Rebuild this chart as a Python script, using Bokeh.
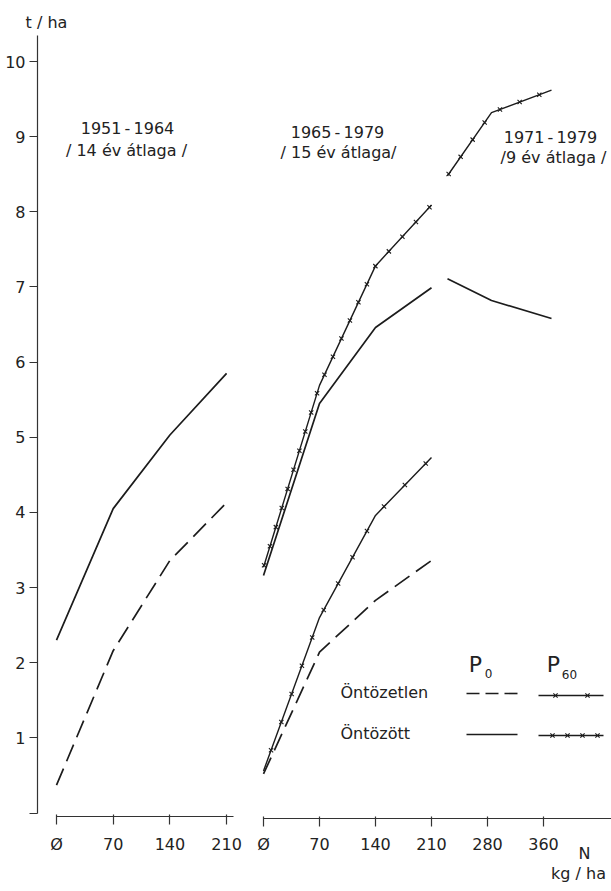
from bokeh.plotting import figure
from bokeh.models import Range1d, FixedTicker, Label, LinearAxis
from bokeh.embed import file_html
from bokeh.resources import INLINE

# ---------------- data ----------------
# N dose, kg/ha ; yield, t/ha
n_1951 = [0, 70, 140, 210]
irrig_p0_1951 = [2.30, 4.05, 5.03, 5.85]      # Öntözött, P0
dry_p0_1951 = [0.37, 2.16, 3.36, 4.13]        # Öntözetlen, P0

n_1965 = [0, 70, 140, 210]
irrig_p0_1965 = [3.16, 5.45, 6.46, 6.99]      # Öntözött, P0
irrig_p60_1965 = [3.27, 5.69, 7.28, 8.09]     # Öntözött, P60
dry_p0_1965 = [0.52, 2.14, 2.83, 3.36]        # Öntözetlen, P0
dry_p60_1965 = [0.56, 2.60, 3.96, 4.73]       # Öntözetlen, P60

n_1971 = [230, 285, 360]
irrig_p0_1971 = [7.11, 6.82, 6.58]            # Öntözött, P0
irrig_p60_1971 = [8.48, 9.32, 9.62]           # Öntözött, P60

y_ticks = [0, 1, 2, 3, 4, 5, 6, 7, 8, 9, 10]
y_tick_labels = ["", "1", "2", "3", "4", "5", "6", "7", "8", "9", "10"]
left_x_ticks = [0, 70, 140, 210]
left_x_labels = ["Ø", "70", "140", "210"]
right_x_ticks = [0, 70, 140, 210, 280, 350]
right_x_labels = ["Ø", "70", "140", "210", "280", "360"]

period_titles = ["1951\u2009-\u20091964", "1965\u2009-\u20091979", "1971\u2009-\u20091979"]
period_subtitles = ["/ 14 év átlaga /", "/ 15 év átlaga/", "/9 év átlaga /"]
row_labels = ["Öntözetlen", "Öntözött"]

# ---------------- layout constants ----------------
W, H = 611, 891
Y0, YK = 812.5, 75.15        # pixel row of 0 t/ha, pixels per t/ha
L0, LK = 56.0, 0.81          # left panel: pixel column of N=0, pixels per kg
R0, RK = 263.0, 0.80         # right panel: pixel column of N=0, pixels per kg

FONT = "DejaVu Sans"
INK = "#1c1c1c"
TXT = "#222222"


def vy(py):
    return (Y0 - py) / YK


def lx(px):
    return (px - L0) / LK


def rx(px):
    return (px - R0) / RK


p = figure(width=W, height=H,
           x_range=Range1d(lx(0), lx(W)), y_range=Range1d(vy(H), vy(0)),
           output_backend="svg", toolbar_location=None,
           x_axis_location=None, y_axis_location=None,
           min_border_left=0, min_border_right=0, min_border_top=0, min_border_bottom=0)
p.extra_x_ranges = {"right": Range1d(rx(0), rx(W))}
p.title.visible = False
p.outline_line_color = None
p.grid.visible = False
p.background_fill_color = "white"
p.border_fill_color = "white"


def style_axis(ax):
    ax.axis_line_color = "#333333"
    ax.axis_line_width = 1.2
    ax.major_tick_line_color = "#333333"
    ax.major_tick_line_width = 1.2
    ax.minor_tick_line_color = None
    ax.major_label_text_font = FONT
    ax.major_label_text_font_size = "16px"
    ax.major_label_text_color = TXT
    return ax


# y axis (t/ha)
yax = style_axis(LinearAxis(fixed_location=lx(37),
                            ticker=FixedTicker(ticks=y_ticks),
                            major_label_overrides={t: s for t, s in zip(y_ticks, y_tick_labels)},
                            bounds=(0, 10.35), major_tick_in=0, major_tick_out=8,
                            major_label_standoff=4))
p.add_layout(yax, "left")

# x axis of the 1951-1964 panel
lax = style_axis(LinearAxis(fixed_location=vy(816),
                            ticker=FixedTicker(ticks=left_x_ticks),
                            major_label_overrides={t: s for t, s in zip(left_x_ticks, left_x_labels)},
                            bounds=(0, lx(233)), major_tick_in=2, major_tick_out=8,
                            major_label_standoff=10))
p.add_layout(lax, "below")

# x axis of the 1965-1979 / 1971-1979 panel
rax = style_axis(LinearAxis(x_range_name="right", fixed_location=vy(818),
                            ticker=FixedTicker(ticks=right_x_ticks),
                            major_label_overrides={t: s for t, s in zip(right_x_ticks, right_x_labels)},
                            bounds=(0, rx(W)), major_tick_in=2, major_tick_out=8,
                            major_label_standoff=8))
p.add_layout(rax, "below")


def x_marks(xs, ys, kx, step, offset):
    """Positions of the small 'x' signs that make up the -x-x- line style."""
    pts = [(x * kx, y * YK) for x, y in zip(xs, ys)]
    out_x, out_y = [], []
    d_next = offset
    travelled = 0.0
    for (x1, y1), (x2, y2) in zip(pts[:-1], pts[1:]):
        seg = ((x2 - x1) ** 2 + (y2 - y1) ** 2) ** 0.5
        while d_next <= travelled + seg:
            t = (d_next - travelled) / seg
            out_x.append((x1 + t * (x2 - x1)) / kx)
            out_y.append((y1 + t * (y2 - y1)) / YK)
            d_next += step
        travelled += seg
    return out_x, out_y


def crossed_line(xs, ys, step, offset):
    p.line(xs, ys, line_color=INK, line_width=1.4, x_range_name="right")
    mx, my = x_marks(xs, ys, RK, step, offset)
    p.scatter(mx, my, marker="x", size=6, line_color=INK, line_width=1.1,
              x_range_name="right")


def text(x, y, s, size="16px", align="center", rng="default"):
    p.add_layout(Label(x=x, y=y, text=s, text_font=FONT, text_font_size=size,
                       text_color=TXT, text_align=align, text_baseline="middle",
                       x_range_name=rng))


# ---------------- 1951-1964 ----------------
p.line(n_1951, irrig_p0_1951, line_color=INK, line_width=1.7)
p.line(n_1951, dry_p0_1951, line_color=INK, line_width=1.7, line_dash="18 8")

text(lx(46), vy(22), "t / ha")
text(lx(127), vy(128), period_titles[0])
text(lx(126), vy(150), period_subtitles[0])

# ---------------- 1965-1979 ----------------
p.line(n_1965, irrig_p0_1965, line_color=INK, line_width=1.7, x_range_name="right")
crossed_line(n_1965, irrig_p60_1965, 20, 2)
p.line(n_1965, dry_p0_1965, line_color=INK, line_width=1.7, line_dash="18 8",
       x_range_name="right")
crossed_line(n_1965, dry_p60_1965, 30, 22)

# ---------------- 1971-1979 ----------------
p.line(n_1971, irrig_p0_1971, line_color=INK, line_width=1.7, x_range_name="right")
crossed_line(n_1971, irrig_p60_1971, 21, 2)

text(rx(337), vy(132), period_titles[1], rng="right")
text(rx(338), vy(152), period_subtitles[1], rng="right")
text(rx(550), vy(137), period_titles[2], rng="right")
text(rx(553), vy(157), period_subtitles[2], rng="right")

# ---------------- legend (rows: irrigation, columns: P level) ----------------
text(rx(475), vy(664), "P", size="22px", rng="right")
text(rx(488), vy(673), "0", size="12px", rng="right")
text(rx(553), vy(664), "P", size="22px", rng="right")
text(rx(569), vy(674), "60", size="12px", rng="right")
text(rx(340), vy(692), row_labels[0], align="left", rng="right")
text(rx(340), vy(733), row_labels[1], align="left", rng="right")

p.line([rx(466), rx(517)], [vy(693)] * 2, line_color=INK, line_width=1.6,
       line_dash="13 6", x_range_name="right")
p.line([rx(538), rx(603)], [vy(695)] * 2, line_color=INK, line_width=1.3,
       x_range_name="right")
p.scatter([rx(555), rx(587)], [vy(695)] * 2, marker="x", size=6, line_color=INK,
          line_width=1.1, x_range_name="right")
p.line([rx(466), rx(517)], [vy(734)] * 2, line_color=INK, line_width=1.7,
       x_range_name="right")
p.line([rx(538), rx(603)], [vy(735)] * 2, line_color=INK, line_width=1.3,
       x_range_name="right")
p.scatter([rx(552), rx(567), rx(582), rx(597)], [vy(735)] * 4, marker="x", size=6,
          line_color=INK, line_width=1.1, x_range_name="right")

# axis unit
text(rx(584), vy(853), "N", rng="right")
text(rx(578), vy(873), "kg / ha", rng="right")

open("out.html", "w").write(file_html(p, INLINE))
